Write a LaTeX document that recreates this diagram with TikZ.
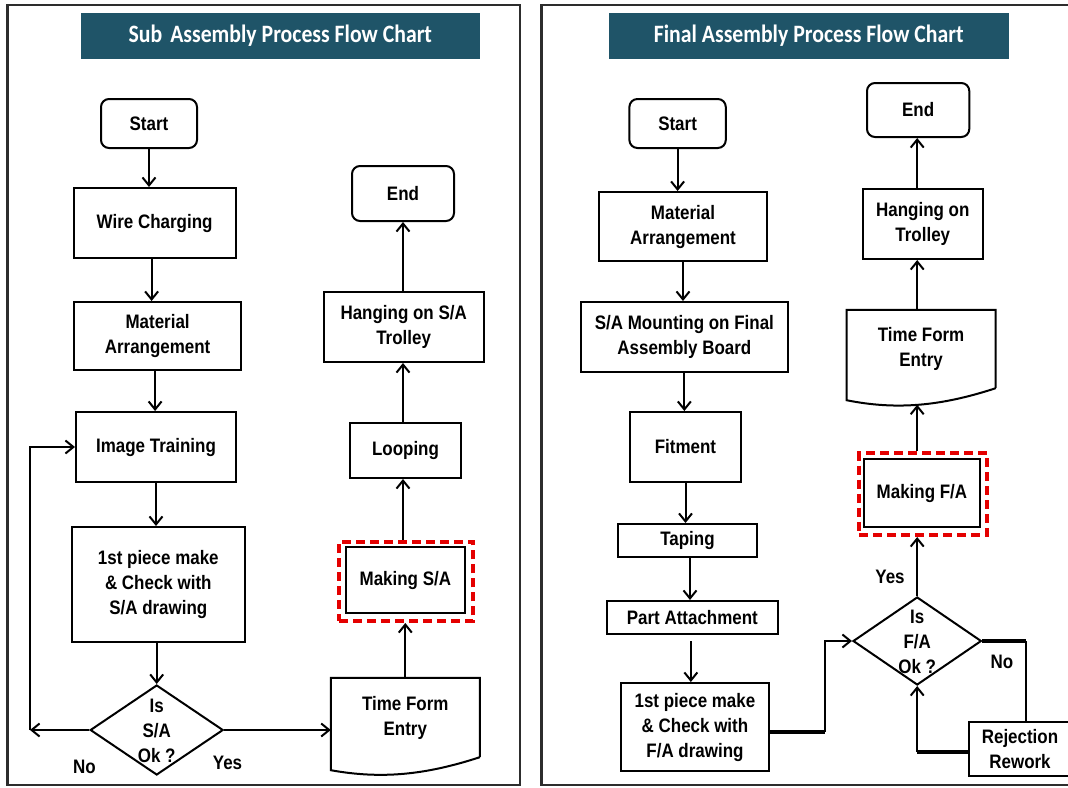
\documentclass[tikz,border=0pt]{standalone}
\usepackage{fontspec}
\setmainfont{Liberation Sans}[FakeStretch=0.87]
\newfontfamily\ttlfont{Carlito}[FakeStretch=0.87]
\usetikzlibrary{arrows.meta,shapes.geometric,calc}
\definecolor{titlebg}{RGB}{31,84,104}
\definecolor{framegray}{RGB}{45,45,45}
\definecolor{hired}{RGB}{228,0,0}
\newcommand\boxfont{\fontsize{19.5}{25}\selectfont\bfseries}
\newcommand\titletextfont{\ttlfont\fontsize{25}{28}\selectfont\bfseries}
\tikzset{
  x=1pt, y=-1pt,
  ln/.style={line width=2pt, black},
  thk/.style={line width=4pt, black},
  arr/.style={ln, -{Straight Barb[length=8pt,width=13pt]}},
  box/.style={draw, ln, rectangle, align=center, inner sep=0pt, font=\boxfont},
  term/.style={box, rounded corners=8pt},
  plain/.style={rectangle, align=center, inner sep=0pt, font=\boxfont},
  dia/.style={draw, ln, diamond, inner sep=0pt},
  redbox/.style={draw=hired, line width=4pt, dash pattern=on 9pt off 5pt, rectangle, inner sep=0pt},
  titlebar/.style={fill=titlebg, rectangle, inner sep=0pt, text=white, font=\titletextfont},
  lbl/.style={font=\boxfont, inner sep=0pt},
  frame/.style={draw=framegray, line width=2.5pt}
}
\begin{document}
\begin{tikzpicture}
\useasboundingbox (0,0) rectangle (1068,787);
\clip (0,0) rectangle (1068,787);
\fill[white] (0,0) rectangle (1068,787);
% frames
\draw[frame] (7.5,5) rectangle (520,785);
\draw[frame] (541.5,5) rectangle (1080,785);
% titles
\node[titlebar, minimum width=399pt, minimum height=46pt] (titleL) at (280.35,36) {Sub\hspace{0.12em} Assembly Process Flow Chart};
\node[titlebar, minimum width=399.5pt, minimum height=46pt] (titleR) at (808.75,36) {Final Assembly Process Flow Chart};

% ---------- left chart ----------
\node[term, minimum width=96pt, minimum height=49pt] (startL) at (149,123.5) {Start};
\node[box, minimum width=162pt, minimum height=70pt] (wire) at (154.6,223) {Wire Charging};
\node[box, minimum width=167pt, minimum height=68pt] (matL) at (157.6,336) {Material\\Arrangement};
\node[box, minimum width=160pt, minimum height=70pt] (img) at (156,447) {Image Training};
\node[box, minimum width=172.6pt, minimum height=115pt] (firstL) at (158.3,584.5) {1st piece make\\\& Check with\\S/A drawing};
\node[dia, minimum width=133pt, minimum height=90pt] (diaL) at (156.7,730) {};
\node[plain] (diaLt) at (156.7,731) {Is\\S/A\\Ok ?};
\node[plain, minimum width=148.6pt, minimum height=79pt] (tL) at (405.3,717.5) {Time Form\\Entry};
\draw[ln] (tL.south east) -- (tL.north east) -- (tL.north west) -- ($(tL.south west)+(0,13)$)
  .. controls ($(tL.south west)+(50,22)$) and ($(tL.south east)+(-55,18)$) .. (tL.south east);
\node[redbox, minimum width=134.4pt, minimum height=79pt] (mkLo) at (406.2,581.5) {};
\node[box, minimum width=119.3pt, minimum height=66pt] (mkL) at (405.35,580) {Making S/A};
\node[box, minimum width=111pt, minimum height=55pt] (loop) at (405.5,450.5) {Looping};
\node[box, minimum width=160.1pt, minimum height=70pt] (hangL) at (403.65,327) {Hanging on S/A\\Trolley};
\node[term, minimum width=102pt, minimum height=55pt] (endL) at (403,193.5) {End};

\draw[arr] (startL.south) -- (startL.south |- wire.north);
\draw[arr] ([xshift=-3pt]wire.south) -- ([xshift=-3pt]wire.south |- matL.north);
\draw[arr] ([xshift=-2.5pt]matL.south) -- ([xshift=-2.5pt]matL.south |- img.north);
\draw[arr] (img.south) -- (img.south |- firstL.north);
\draw[arr] (firstL.south -| diaL) -- (diaL.north);
\coordinate (loopL) at (30,730);
\draw[arr] (diaL.west) -- (loopL);
\draw[arr] (loopL) |- (img.west);
\draw[arr] (diaL.east) -- (diaL.east -| tL.west);
\draw[arr] (tL.north) -- (tL.north |- mkLo.south);
\draw[arr] (mkLo.north -| endL) -- (endL |- loop.south);
\draw[arr] (loop.north -| endL) -- (endL |- hangL.south);
\draw[arr] (hangL.north -| endL) -- (endL.south);
\node[lbl] (noL) at (84.5,767) {No};
\node[lbl] (yesL) at (227.5,763) {Yes};

% ---------- right chart ----------
\node[term, minimum width=96.4pt, minimum height=49pt] (startR) at (677.6,123.5) {Start};
\node[box, minimum width=167.2pt, minimum height=69pt] (matR) at (683,226.5) {Material\\Arrangement};
\node[box, minimum width=206.7pt, minimum height=70pt] (saR) at (684.35,337) {S/A Mounting on Final\\Assembly Board};
\node[box, minimum width=111pt, minimum height=70pt] (fit) at (685.5,447) {Fitment};
\node[box, minimum width=139pt, minimum height=33pt] (tap) at (687.5,540.5) {Taping};
\node[box, minimum width=170.3pt, minimum height=33pt] (part) at (692.35,617.5) {Part Attachment};
\node[box, minimum width=148.1pt, minimum height=88pt] (firstR) at (694.95,727) {1st piece make\\\& Check with\\F/A drawing};
\node[dia, minimum width=128.4pt, minimum height=88pt] (diaR) at (917.2,641) {};
\node[plain] (diaRt) at (917.2,641.7) {Is\\F/A\\Ok ?};
\node[redbox, minimum width=127.7pt, minimum height=82pt] (mkRo) at (923.15,494) {};
\node[box, minimum width=116.5pt, minimum height=68pt] (mkR) at (921.95,493) {Making F/A};
\node[plain, minimum width=148.8pt, minimum height=78pt] (tR) at (921.1,349) {Time Form\\Entry};
\draw[ln] (tR.south east) -- (tR.north east) -- (tR.north west) -- ($(tR.south west)+(0,12)$)
  .. controls ($(tR.south west)+(50,22)$) and ($(tR.south east)+(-55,18)$) .. (tR.south east);
\coordinate (tRw) at ($(tR.south)+(-3.9,16.5)$);
\node[box, minimum width=120.2pt, minimum height=70pt] (hangR) at (922.8,224) {Hanging on\\Trolley};
\node[term, minimum width=102.3pt, minimum height=54pt] (endR) at (918.15,110) {End};
\node[box, minimum width=102pt, minimum height=54pt] (rej) at (1020,749) {Rejection\\Rework};

\draw[arr] (startR.south) -- (startR.south |- matR.north);
\draw[arr] (matR.south) -- (matR.south |- saR.north);
\draw[arr] (saR.south) -- (saR.south |- fit.north);
\draw[arr] (fit.south) -- (fit.south |- tap.north);
\draw[arr] ([xshift=2.5pt]tap.south) -- ([xshift=2.5pt]tap.south |- part.north);
\draw[arr] ([xshift=-1.5pt,yshift=-6pt]part.south) -- ([xshift=-1.5pt]part.south |- firstR.north);
\coordinate (bendR) at (825.2,731.7);
\draw[thk] (firstR.east |- bendR) -- (bendR);
\draw[arr] (bendR) |- (diaR.west);
\draw[arr] (diaR.north) -- (diaR.north |- mkRo.south);
\draw[arr] (mkRo.north -| diaR) -- (diaR |- tRw);
\draw[arr] (tR.north -| diaR) -- (diaR |- hangR.south);
\draw[arr] (hangR.north -| diaR) -- (diaR |- endR.south);
\coordinate (noR) at (1025.5,641);
\draw[thk] (diaR.east) -- (noR);
\draw[ln] (noR) -- (noR |- rej.north);
\coordinate (rejL) at (917.2,751.7);
\draw[thk] (rej.west |- rejL) -- (rejL);
\draw[arr] (rejL) -- (diaR.south);
\node[lbl] (yesR) at (890,577) {Yes};
\node[lbl] (noRl) at (1002,662) {No};
\end{tikzpicture}
\end{document}
